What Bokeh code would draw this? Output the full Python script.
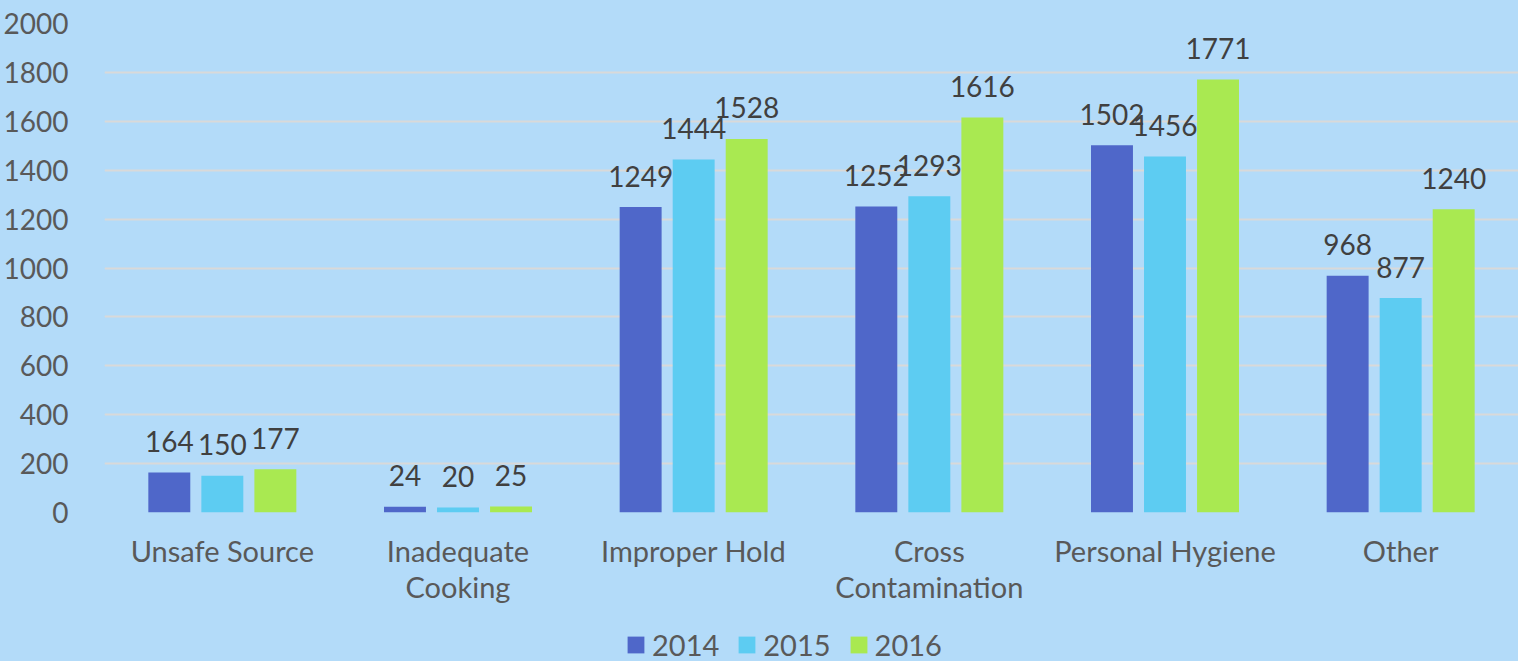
from bokeh.plotting import figure
from bokeh.models import FactorRange, FixedTicker, Legend, LegendItem, ColumnDataSource
from bokeh.layouts import column
from bokeh.transform import dodge
from bokeh.core.properties import value
from bokeh.embed import file_html
from bokeh.resources import INLINE

categories = ["Unsafe Source", "Inadequate\nCooking", "Improper Hold", "Cross\nContamination", "Personal Hygiene", "Other"]
years = ["2014", "2015", "2016"]
v2014 = [164, 24, 1249, 1252, 1502, 968]
v2015 = [150, 20, 1444, 1293, 1456, 877]
v2016 = [177, 25, 1528, 1616, 1771, 1240]
colors = ["#4F67C9", "#5DCCF2", "#A9E951"]
yticks = list(range(0, 2001, 200))

FONT = "Lato"
BG = "#B3DBF9"

src = ColumnDataSource(dict(cat=categories, y2014=v2014, y2015=v2015, y2016=v2016,
                            l2014=[str(v) for v in v2014], l2015=[str(v) for v in v2015],
                            l2016=[str(v) for v in v2016]))

p = figure(width=1518, height=621, x_range=FactorRange(*categories), y_range=(0, 2000),
           output_backend="svg", toolbar_location=None,
           min_border_left=103, min_border_right=0, min_border_top=23, min_border_bottom=109)
p.background_fill_color = BG
p.border_fill_color = BG
p.outline_line_color = None

offsets = [-0.225, 0.0, 0.225]
for yr, off, col in zip(years, offsets, colors):
    p.vbar(x=dodge("cat", off, range=p.x_range), top="y" + yr, width=0.178, source=src,
           fill_color=col, line_color=None)
    p.text(x=dodge("cat", off, range=p.x_range), y="y" + yr, text="l" + yr, source=src,
           text_align="center", text_baseline="alphabetic", y_offset=-31,
           text_font=value(FONT), text_font_size="28px", text_color="#404040")

p.yaxis.ticker = FixedTicker(ticks=yticks)
p.yaxis.axis_line_color = None
p.yaxis.major_tick_line_color = None
p.yaxis.minor_tick_line_color = None
p.yaxis.major_label_standoff = 30
p.yaxis.major_label_text_font = FONT
p.yaxis.major_label_text_font_size = "28px"
p.yaxis.major_label_text_color = "#595959"

p.xaxis.axis_line_color = None
p.xaxis.major_tick_line_color = None
p.xaxis.minor_tick_line_color = None
p.xaxis.major_label_standoff = 14
p.xaxis.major_label_text_font = FONT
p.xaxis.major_label_text_font_size = "29px"
p.xaxis.major_label_text_line_height = 1.05
p.xaxis.major_label_text_color = "#595959"

p.xgrid.grid_line_color = None
p.ygrid.grid_line_color = "#D9D9D9"
p.ygrid.grid_line_width = 2

# legend strip (its bars lie outside its ranges; only the legend shows)
lg = figure(width=1518, height=40, x_range=(-2, -1), y_range=(-2, -1),
            x_axis_type=None, y_axis_type=None, output_backend="svg", toolbar_location=None,
            min_border_left=0, min_border_right=0, min_border_top=0, min_border_bottom=0)
lg.background_fill_color = BG
lg.border_fill_color = BG
lg.outline_line_color = None
lg.xgrid.grid_line_color = None
lg.ygrid.grid_line_color = None
items = []
for yr, col in zip(years, colors):
    r = lg.vbar(x="y" + yr, top="y" + yr, width=1, source=src, fill_color=col, line_color=None)
    items.append(LegendItem(label=yr, renderers=[r]))
legend = Legend(items=items, orientation="horizontal", location=(521, -1),
                background_fill_alpha=0, border_line_color=None,
                label_text_font=FONT, label_text_font_size="29px", label_text_color="#595959",
                glyph_width=21, glyph_height=21, label_standoff=6, spacing=17,
                padding=0, margin=0)
lg.add_layout(legend, "center")

layout = column(p, lg, spacing=0)
html = file_html(layout, INLINE)
html = html.replace("<head>", "<head><style>html,body{margin:0;background:%s;}</style>" % BG, 1)
open("out.html", "w").write(html)
